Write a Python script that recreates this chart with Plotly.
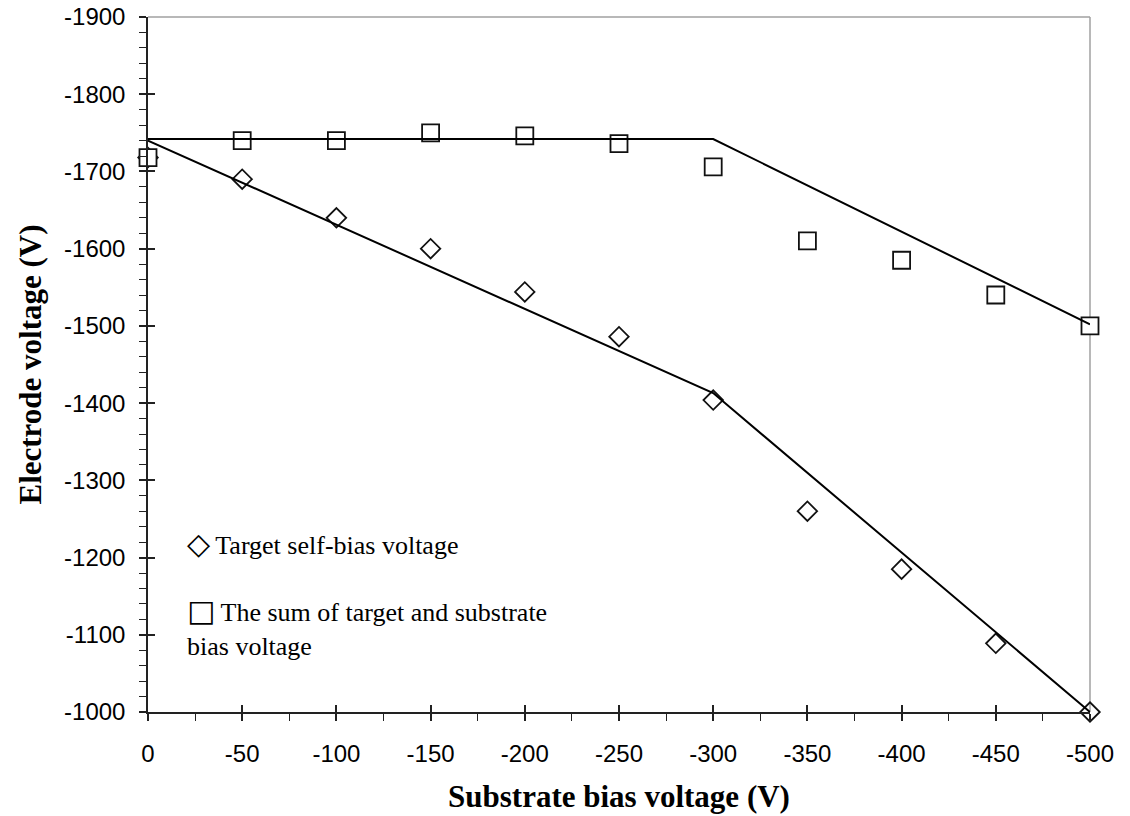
import plotly.graph_objects as go

# Substrate bias settings (V)
substrate_bias = [0, -50, -100, -150, -200, -250, -300, -350, -400, -450, -500]
# Measured target self-bias voltage (V)
target_self_bias = [-1718, -1690, -1640, -1600, -1544, -1486, -1404, -1260, -1185, -1089, -1000]
# Sum of target and substrate bias voltage (V)
sum_bias = [-1718, -1740, -1740, -1750, -1746, -1736, -1706, -1610, -1585, -1540, -1500]

# Piecewise-linear guide lines (break at -300 V)
guide_x = [0, -300, -500]
guide_sum = [-1742, -1742, -1502]
guide_target = [-1740, -1413, -1000]

# Tick labels
x_ticks = [0, -50, -100, -150, -200, -250, -300, -350, -400, -450, -500]
y_ticks = [-1000, -1100, -1200, -1300, -1400, -1500, -1600, -1700, -1800, -1900]

X_RANGE = [0, -500]
Y_RANGE = [-1000, -1900]

AXIS_COLOR = "#222222"
FRAME_COLOR = "#a0a0a0"
TICK_FONT = dict(family="Liberation Sans, Arial, sans-serif", size=24, color="black")
TITLE_FONT = dict(family="Liberation Serif, Times New Roman, serif", size=31, color="black")
LEGEND_FONT = dict(family="Liberation Serif, Times New Roman, serif", size=26, color="black")
GLYPH = '<span style="font-family:DejaVu Sans;font-size:30px">{}</span>\u2009'

fig = go.Figure()

fig.add_trace(go.Scatter(
    x=substrate_bias, y=target_self_bias, mode="markers",
    name="Target self-bias voltage",
    marker=dict(symbol="diamond", size=15, color="rgba(0,0,0,0)",
                line=dict(color="#111111", width=1.8)),
    cliponaxis=False, showlegend=False,
))
fig.add_trace(go.Scatter(
    x=substrate_bias, y=sum_bias, mode="markers",
    name="The sum of target and substrate bias voltage",
    marker=dict(symbol="square", size=17, color="white",
                line=dict(color="#111111", width=1.8)),
    cliponaxis=False, showlegend=False,
))
fig.add_trace(go.Scatter(
    x=guide_x, y=guide_sum, mode="lines",
    line=dict(color="black", width=2), showlegend=False, hoverinfo="skip",
))
fig.add_trace(go.Scatter(
    x=guide_x, y=guide_target, mode="lines",
    line=dict(color="black", width=2), showlegend=False, hoverinfo="skip",
))
# empty trace so the overlay axes (inner tick halves) get drawn
fig.add_trace(go.Scatter(x=[], y=[], xaxis="x2", yaxis="y2", showlegend=False))

fig.update_layout(
    width=1130, height=816,
    margin=dict(l=148, r=40, t=17, b=104),
    paper_bgcolor="white", plot_bgcolor="white",
    showlegend=False,
    xaxis=dict(
        range=X_RANGE, tickvals=x_ticks, ticktext=[str(v) for v in x_ticks],
        ticks="outside", ticklen=7, tickwidth=1.5, tickcolor=AXIS_COLOR,
        minor=dict(tickmode="linear", tick0=0, dtick=25, ticks="outside",
                   ticklen=7, tickwidth=1.2, tickcolor=AXIS_COLOR),
        showline=True, linecolor=AXIS_COLOR, linewidth=1.5,
        showgrid=False, zeroline=False, tickfont=TICK_FONT,
        ticklabelstandoff=12, automargin=False,
        title=dict(text="<b>Substrate bias voltage (V)</b>", font=TITLE_FONT, standoff=20),
    ),
    yaxis=dict(
        range=Y_RANGE, tickvals=y_ticks, ticktext=[str(v) for v in y_ticks],
        ticks="outside", ticklen=7, tickwidth=1.5, tickcolor=AXIS_COLOR,
        minor=dict(tickmode="linear", tick0=0, dtick=20, ticks="outside",
                   ticklen=7, tickwidth=1.2, tickcolor=AXIS_COLOR),
        showline=True, linecolor=AXIS_COLOR, linewidth=1.5,
        showgrid=False, zeroline=False, tickfont=TICK_FONT,
        ticklabelstandoff=9, automargin=False,
        title=dict(text="<b>Electrode voltage (V)</b>", font=TITLE_FONT, standoff=13),
    ),
    xaxis2=dict(
        range=X_RANGE, overlaying="x", anchor="y2", side="bottom",
        tickvals=x_ticks, ticks="inside", ticklen=7, tickwidth=1.5, tickcolor=AXIS_COLOR,
        showticklabels=False, showline=False, showgrid=False, zeroline=False,
        automargin=False,
    ),
    yaxis2=dict(
        range=Y_RANGE, overlaying="y", anchor="x2", side="left",
        tickvals=y_ticks, ticks="inside", ticklen=7, tickwidth=1.5, tickcolor=AXIS_COLOR,
        showticklabels=False, showline=False, showgrid=False, zeroline=False,
        automargin=False,
    ),
    shapes=[
        dict(type="line", xref="paper", yref="paper", x0=0, x1=1, y0=1, y1=1,
             line=dict(color=FRAME_COLOR, width=1.5), layer="below"),
        dict(type="line", xref="paper", yref="paper", x0=1, x1=1, y0=0, y1=1,
             line=dict(color=FRAME_COLOR, width=1.5), layer="below"),
    ],
    annotations=[
        dict(text=GLYPH.format("\u25c7") + "Target self-bias voltage",
             xref="paper", yref="paper",
             x=0.039, y=0.243, xanchor="left", yanchor="middle",
             showarrow=False, align="left", font=LEGEND_FONT),
        dict(text=GLYPH.format("\u25a1") + "The sum of target and substrate<br>bias voltage",
             xref="paper", yref="paper", x=0.039, y=0.122,
             xanchor="left", yanchor="middle",
             showarrow=False, align="left", font=LEGEND_FONT),
    ],
)

fig.write_html("out.html")
